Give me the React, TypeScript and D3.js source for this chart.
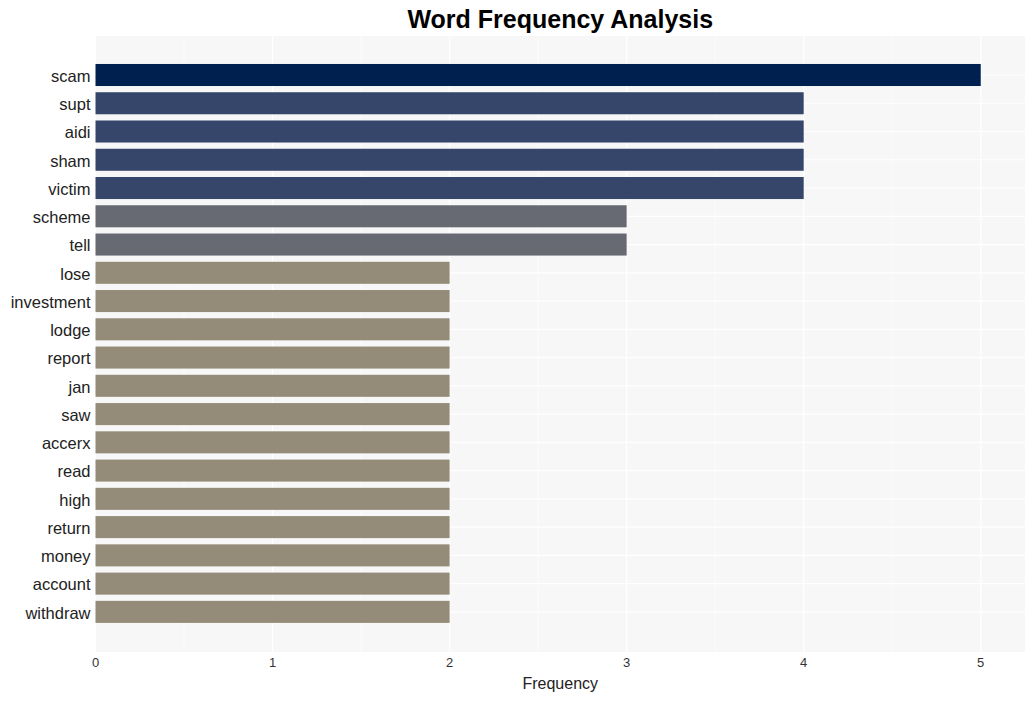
import React from "react";
import * as d3 from "d3";

const words = ["scam","supt","aidi","sham","victim","scheme","tell","lose","investment","lodge","report","jan","saw","accerx","read","high","return","money","account","withdraw"];
const freqs = [5,4,4,4,4,3,3,2,2,2,2,2,2,2,2,2,2,2,2,2];
const xTicks = [0,1,2,3,4,5];
const colorByValue: Record<number,string> = {5:"#002050",4:"#36466b",3:"#676973",2:"#948c78"};

export default function App() {
  const W = 1035, H = 701;
  const left = 95.5, right = 1025, top = 36, bottom = 652;
  const x = d3.scaleLinear().domain([0, 5.25]).range([left, right]);
  const y = d3.scaleLinear().domain([-1.38, words.length - 1 + 1.42]).range([top, bottom]);
  const step = y(1) - y(0);
  const bh = step * 0.78;
  const minor = d3.range(0.5, 5.25, 1);
  return (
    <svg width={W} height={H} style={{position:"absolute", left:0, top:0}} fontFamily="Liberation Sans, Arial, sans-serif">
      <rect x={0} y={0} width={W} height={H} fill="#fff" />
      <rect x={left} y={top} width={right-left} height={bottom-top} fill="#f7f7f7" />
      {minor.map(v => <line key={"m"+v} x1={x(v)} x2={x(v)} y1={top} y2={bottom} stroke="#fff" strokeWidth={0.6} />)}
      {xTicks.map(v => <line key={"g"+v} x1={x(v)} x2={x(v)} y1={top} y2={bottom} stroke="#fff" strokeWidth={1.2} />)}
      {words.map((w,i) => <line key={"h"+w} x1={left} x2={right} y1={y(i)} y2={y(i)} stroke="#fff" strokeWidth={1.2} />)}
      {words.map((w,i) => (
        <rect key={w} x={x(0)} y={y(i)-bh/2} width={x(freqs[i])-x(0)} height={bh} fill={colorByValue[freqs[i]]} />
      ))}
      {words.map((w,i) => (
        <text key={"t"+w} x={left-5} y={y(i)+1} dy="0.35em" textAnchor="end" fontSize={16.5} fill="#222">{w}</text>
      ))}
      {xTicks.map(v => (
        <text key={"x"+v} x={x(v)} y={667} textAnchor="middle" fontSize={13} fill="#333">{v}</text>
      ))}
      <text x={(left+right)/2} y={689} textAnchor="middle" fontSize={16} fill="#222">Frequency</text>
      <text x={(left+right)/2} y={28} textAnchor="middle" fontSize={25} fontWeight="bold" fill="#000">Word Frequency Analysis</text>
    </svg>
  );
}
